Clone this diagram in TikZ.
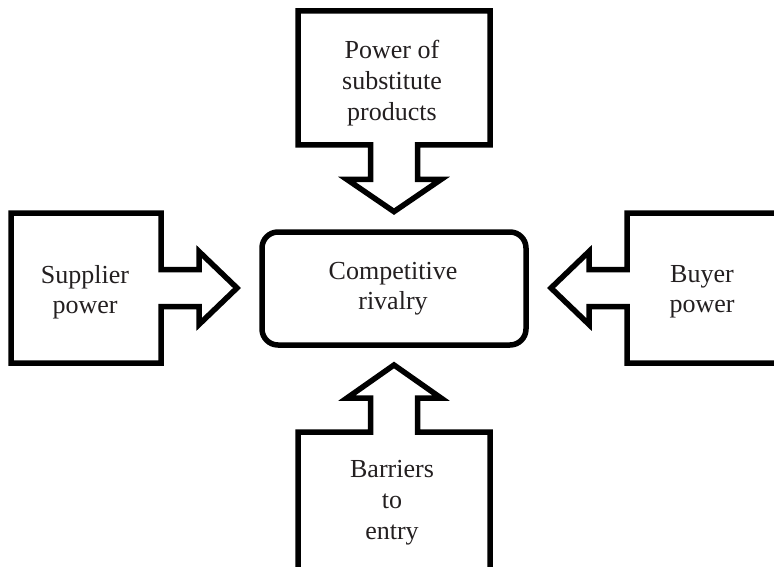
\documentclass[tikz,border=0pt]{standalone}
\usepackage{fontspec}
\setmainfont{Liberation Serif}
\definecolor{ink}{RGB}{35,31,32}
\begin{document}
\begin{tikzpicture}[x=1pt,y=-1pt,
  force/.style={draw=black, line width=5.5pt, line join=miter, miter limit=10, fill=white},
  label/.style={font=\fontsize{26}{30}\selectfont, align=center, text=ink, inner sep=0pt},
  tall/.style={font=\fontsize{26}{31}\selectfont}]
\useasboundingbox (0,0) rectangle (774,567);

% central box
\draw[force, rounded corners=16pt] (262,232) rectangle (526,345);
\node[label] (rivalry) at (393,289) {Competitive\\rivalry};

% block arrow from above
\draw[force] (298,11) -- (490,11) -- (490,145) -- (417.5,145) -- (417.5,179.5)
  -- (441,179.5) -- (394,211.6) -- (347,179.5) -- (370.5,179.5) -- (370.5,145)
  -- (298,145) -- cycle;
\node[label, tall] (substitutes) at (392,83) {Power of\\substitute\\products};

% block arrow from below
\draw[force] (298,580) -- (298,432) -- (370.5,432) -- (370.5,398) -- (347,398)
  -- (394,365) -- (441,398) -- (417.5,398) -- (417.5,432) -- (490,432)
  -- (490,580) -- cycle;
\node[label, tall] (entrants) at (392,503) {Barriers\\to\\entry};

% block arrow from the left
\draw[force] (11,213) -- (161,213) -- (161,269.5) -- (199,269.5) -- (199,251.5)
  -- (237,288) -- (199,324.5) -- (199,306.5) -- (161,306.5) -- (161,363)
  -- (11,363) -- cycle;
\node[label] (suppliers) at (85,292) {Supplier\\power};

% block arrow from the right
\draw[force] (785,213) -- (627,213) -- (627,269.5) -- (589,269.5) -- (589,251.5)
  -- (551,288) -- (589,324.5) -- (589,306.5) -- (627,306.5) -- (627,363)
  -- (785,363) -- cycle;
\node[label] (buyers) at (702,292) {Buyer\\power};
\end{tikzpicture}
\end{document}
